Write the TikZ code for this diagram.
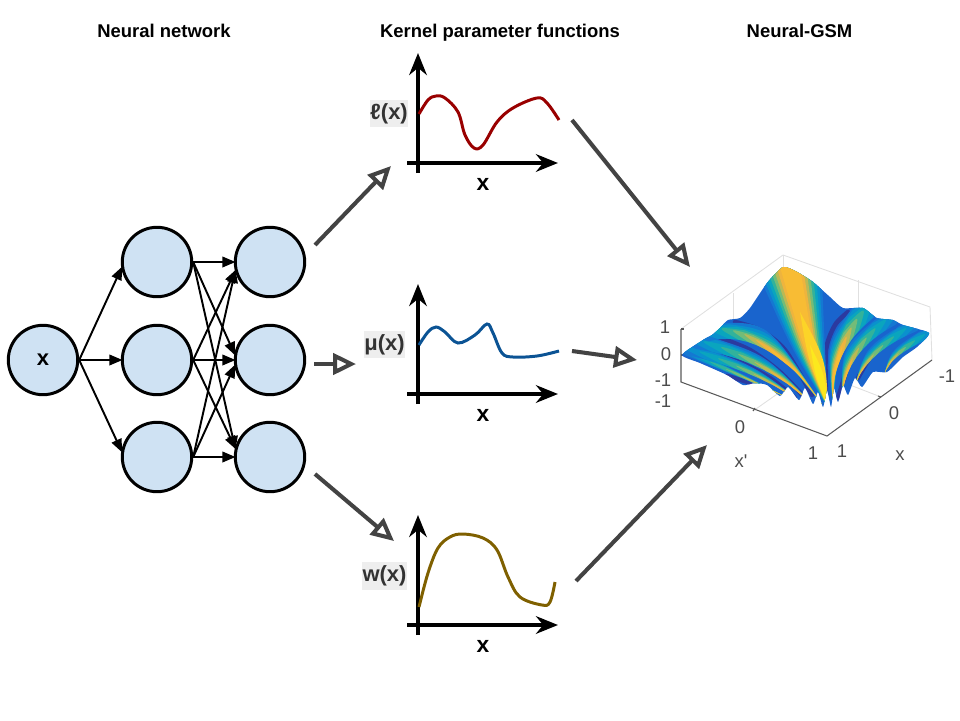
\documentclass[tikz,border=0pt]{standalone}
\usepackage{fontspec}
\setmainfont{Liberation Sans}
\usetikzlibrary{arrows.meta}
\definecolor{nodeblue}{HTML}{CFE2F3}
\definecolor{flowgray}{HTML}{434343}
\definecolor{labelbg}{HTML}{EEEEEE}
\definecolor{ellred}{HTML}{990000}
\definecolor{mublue}{HTML}{0B5394}
\definecolor{wbrown}{HTML}{7F6000}
\definecolor{pbase}{RGB}{25,100,205}
\definecolor{pdark}{RGB}{50,45,145}
\definecolor{pa}{RGB}{20,120,210}
\definecolor{pb}{RGB}{10,145,205}
\definecolor{pc}{RGB}{10,165,190}
\definecolor{pd}{RGB}{50,178,155}
\definecolor{pe}{RGB}{115,188,120}
\definecolor{pf}{RGB}{185,185,85}
\definecolor{pg}{RGB}{238,180,62}
\definecolor{ph}{RGB}{248,188,52}
\definecolor{pi}{RGB}{252,212,40}
\definecolor{pj}{RGB}{252,232,30}
\tikzset{
  unit/.style={circle,draw=black,line width=1.7pt,fill=nodeblue,minimum size=39.5pt,inner sep=0pt,font=\bfseries\fontsize{12.5}{14}\selectfont},
  wire/.style={line width=1.1pt,-{Stealth[length=7.5pt,width=6pt,inset=0pt]},shorten >=-1pt},
  flow/.style={flowgray,line width=2.3pt,-{Triangle[open,length=13pt,width=12pt,fill=white]}},
  axisline/.style={line width=2.3pt,-{Stealth[length=12.5pt,width=10pt]}},
  curve/.style={line width=1.7pt},
  title/.style={anchor=base,font=\bfseries\fontsize{10.5}{12}\selectfont},
  funclabel/.style={fill=labelbg,text=black!80,inner sep=0pt,minimum height=15.5pt,font=\bfseries\fontsize{12.5}{14}\selectfont},
  axislabel/.style={font=\bfseries\fontsize{13}{14}\selectfont},
  tick/.style={text=black!70,font=\fontsize{10.5}{12}\selectfont},
  wall/.style={black!12,line width=.5pt},
  box/.style={black!65,line width=.6pt},
  band/.style={pdark,line width=2.6pt,opacity=.75,line cap=round}
}
% one fold of the surface: tip, bend, far end, width, fall-off
\newcommand{\fold}[8]{
  \foreach \k/\shade in {0/pa,1/pb,2/pc,3/pd,4/pe,5/pf,6/pg,7/ph}{
    \pgfmathsetmacro{\wid}{1-\k/10}
    \pgfmathsetmacro{\pos}{1-\k/8*#8}
    \pgfmathsetmacro{\len}{veclen(#5-#1,#6-#2)}
    \pgfmathsetmacro{\nx}{-(#6-#2)/\len*#7*\wid*\pos}
    \pgfmathsetmacro{\ny}{(#5-#1)/\len*#7*\wid*\pos}
    \pgfmathsetmacro{\cx}{#1+(#3-#1)*\pos}
    \pgfmathsetmacro{\cy}{#2+(#4-#2)*\pos}
    \pgfmathsetmacro{\px}{(1-\pos)^2*#1+2*\pos*(1-\pos)*#3+\pos^2*#5}
    \pgfmathsetmacro{\py}{(1-\pos)^2*#2+2*\pos*(1-\pos)*#4+\pos^2*#6}
    \fill[\shade] (#1,#2) .. controls (\cx+.5*\nx,\cy+.5*\ny) .. (\px+\nx,\py+\ny)
      .. controls (\px+.7*\px-.7*\cx,\py+.7*\py-.7*\cy) .. (\px-\nx,\py-\ny)
      .. controls (\cx-.5*\nx,\cy-.5*\ny) .. (#1,#2) -- cycle;
  }
}
\newcommand{\surfpath}{plot[smooth cycle,tension=.35] coordinates {(682,355) (703,340) (712,335) (720,328) (728,320) (740,318) (750,308) (767,283) (783,267) (797,272) (813,282) (830,297) (843,308) (863,308) (877,318) (893,320) (903,325) (929,333) (917,347) (903,357) (887,372) (873,372) (862,387) (855,378) (848,395) (843,385) (838,402) (834,388) (831,407) (827,390) (823,407) (818,392) (813,404) (805,388) (799,400) (788,387) (780,396) (767,385) (755,383) (743,385) (727,375) (700,363)}}
\begin{document}
\begin{tikzpicture}[x=.02cm,y=-.02cm]
\useasboundingbox (0,0) rectangle (960,720);

\node[title] (netTitle) at (164,37) {Neural network};
\node[title] (kernelTitle) at (500,37) {Kernel parameter functions};
\node[title] (gsmTitle) at (799.5,37) {Neural-GSM};

% network
\node[unit] (in) at (43,360) {x};
\foreach \i/\y in {1/262,2/360,3/457}{
  \node[unit] (h\i) at (157,\y) {};
  \node[unit] (o\i) at (270,\y) {};
  \draw[wire] (h\i.east) -- (o\i.west);
}
\draw[wire] (in.east) -- (h1.190);
\draw[wire] (in.east) -- (h2.west);
\draw[wire] (in.east) -- (h3.170);
\foreach \a/\b in {2/1.195,3/1.195,1/2.170,3/2.190,1/3.165,2/3.165}{
  \draw[wire] (h\a.east) -- (o\b);
}

% function plots
\foreach \name/\y in {ell/163,mu/394,wx/625}{
  \coordinate (\name axis) at (418,\y);
  \draw[axisline] (\name axis) ++(0,10) -- ++(0,-120);
  \draw[axisline] (\name axis) ++(-11,0) -- ++(151,0);
  \node[axislabel] (\name x) at (483,\y+21) {x};
}
\draw[curve,ellred] plot[smooth,tension=.6] coordinates {(419,114) (428,100) (436,96) (445,98) (458,112) (465,135) (474,148) (483,145) (497,122) (513,108) (537,98) (547,103) (559,120)};
\draw[curve,mublue] plot[smooth,tension=.6] coordinates {(419,345) (428,332) (436,327) (445,332) (458,343) (475,335) (487,324) (493,333) (502,353) (513,357) (537,356) (559,351)};
\draw[curve,wbrown] plot[smooth,tension=.6] coordinates {(419,607) (428,573) (438,548) (450,537) (463,534) (483,538) (497,550) (508,577) (520,597) (542,605) (550,602) (555,582)};
\node[funclabel,minimum width=22pt] (ellLabel) at (389,113.5) {ℓ(x)};
\node[funclabel,minimum width=23pt] (muLabel) at (384.5,344.5) {μ(x)};
\node[funclabel,minimum width=26pt] (wLabel) at (384.5,576) {w(x)};

% surface box
\coordinate (boxLeft) at (681,382);
\coordinate (boxFront) at (827,436);
\coordinate (boxRight) at (932,360);
\coordinate (boxBack) at (783,255);
\draw[wall] (681,329) -- (boxBack) -- (930,307) -- (boxRight);
\draw[wall] (733,293) -- (733,330);
\draw[wall] (858,280) -- (858,320);
\draw[wall] (boxBack) -- (783,270);
\draw[wall] (753,411) -- (790,385);
\draw[wall] (881,397) -- (850,385);
\draw[box] (681,329) -- (boxLeft) -- (boxFront) -- (boxRight);
\draw[box] (681,329) -- (684,329) (681,355) -- (684,355);
\draw[box] (753,411) -- (755,408) (881,397) -- (878,396);

\fill[pbase] \surfpath;
\begin{scope}
\clip \surfpath;
\draw[band] plot[smooth] coordinates {(735,322) (760,330) (785,350) (812,395)};
\draw[band] plot[smooth] coordinates {(718,337) (750,350) (780,372) (805,398)};
\draw[band] plot[smooth] coordinates {(703,347) (740,362) (770,378) (795,398)};
\draw[band] plot[smooth] coordinates {(848,312) (835,325) (826,350) (826,395)};
\draw[band] plot[smooth] coordinates {(872,328) (852,350) (845,375) (838,398)};
\draw[band] plot[smooth] coordinates {(897,330) (872,355) (858,378)};
\draw[band] plot[smooth] coordinates {(727,376) (755,384)};
\fold{885}{372}{893}{352}{930}{332}{6}{1}
\fold{855}{385}{868}{350}{912}{326}{7}{1}
\fold{842}{400}{845}{350}{888}{320}{9}{.85}
\fold{833}{405}{832}{345}{868}{308}{13}{.65}
\fold{786}{397}{740}{375}{688}{352}{4}{1}
\fold{801}{402}{754}{369}{692}{350}{6}{1}
\fold{812}{404}{764}{358}{700}{342}{8}{.9}
\fold{822}{404}{765}{327}{715}{332}{11}{.7}
\fold{828}{408}{808}{345}{788}{258}{34}{0}
\fill[pi] (828,408) .. controls (808,360) .. (800,312) .. controls (826,360) .. (828,408) -- cycle;
\fill[pj] (828,408) .. controls (815,375) .. (810,345) .. controls (825,375) .. (828,408) -- cycle;
\end{scope}

\node[tick] (z1) at (665,327) {1};
\node[tick] (z0) at (666,354) {0};
\node[tick] (zm) at (663,380) {-1};
\node[tick] (ym) at (663,401) {-1};
\node[tick] (y0) at (740,427) {0};
\node[tick] (y1) at (813,453) {1};
\node[tick] (x1) at (842,451) {1};
\node[tick] (x0) at (894,413) {0};
\node[tick] (xm) at (947,376) {-1};
\node[tick] (ylabel) at (741,461) {x\textquotesingle};
\node[tick] (xlabel) at (900,456) {x};

% big arrows
\foreach \n/\ax/\ay/\bx/\by in {A/315/245/391/166,B/314/364/356/364,C/315/474/394/541,D/572/120/690/267,E/572/351/637/360,F/576/581/707/445}{
  \coordinate (from\n) at (\ax,\ay);
  \coordinate (to\n) at (\bx,\by);
  \draw[flow] (from\n) -- (to\n);
}
\end{tikzpicture}
\end{document}
